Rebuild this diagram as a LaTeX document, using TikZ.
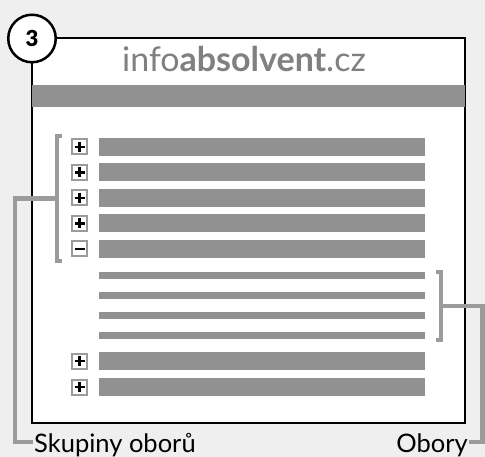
\documentclass[tikz,border=0pt]{standalone}
\usepackage{fontspec}
\setmainfont{Lato}
\newfontfamily\heavyfont{Lato Black}
\usepackage{tikz}
\usetikzlibrary{positioning}
\definecolor{paper}{HTML}{EFEFEF}
\definecolor{bar}{HTML}{919191}
\definecolor{brace}{HTML}{9B9B9B}
\definecolor{logo}{HTML}{808080}
\tikzset{fig/.style={line join=miter,x=1pt,y=-1pt},
  frame/.style={black,line width=2.5pt},
  bracket/.style={brace,line width=4.5pt},
  toggle/.style={draw=brace,line width=2pt,fill=white,minimum size=15pt,inner sep=0pt},
  plusbox/.style={toggle,path picture={\draw[black,line width=2.2pt]
    (path picture bounding box.center)+(-5,0)--+(5,0)+(0,-5)--+(0,5);}},
  minusbox/.style={toggle,path picture={\draw[black,line width=2.2pt]
    (path picture bounding box.center)+(-5,0)--+(5,0);}},
  caption/.style={font=\fontsize{25.5}{30}\selectfont,inner sep=1pt}}

\begin{document}
\begin{tikzpicture}[fig]
  \fill[paper](0,0)rectangle(485,457);
  \useasboundingbox(0,0)rectangle(485,457);
  \draw[frame,fill=white](32,38)rectangle(465,423);
  \fill[bar](32,85)rectangle(465,107);
  \node[font=\fontsize{34}{38}\selectfont,logo,anchor=base](site)at(244,72){info\textbf{absolvent}.cz};
  \node[draw,frame,fill=white,circle,minimum size=47.5pt,inner sep=0pt,
    font=\fontsize{22}{24}\selectfont\heavyfont](step3)at(32,38.5){3};
  % skupiny
  \foreach \y/\n in {147/1,172.5/2,198/3,223.5/4,361/6,387/7}{
    \node[plusbox](t\n)at(79.5,\y){};
    \fill[bar](99,\y-9)rectangle(425,\y+9);
  }
  \node[minusbox](t5)at(79.5,249){};
  \fill[bar](99,240)rectangle(425,258);
  % obory
  \foreach \y in {275.5,295.5,315.5,335.5}
    \fill[bar](99,\y-3.5)rectangle(425,\y+3.5);
  % popisky
  \draw[bracket](61.5,136)--(57,136)--coordinate[pos=.5](gmid)(57,261)--(61.5,261);
  \coordinate(gfoot)at(15,442);
  \node[caption,anchor=base west](skup)at(33,452){Skupiny oborů};
  \draw[bracket](gmid)-|(gfoot)--(gfoot-|skup.west);
  \draw[bracket](436,272)--(441,272)--coordinate[pos=.5](omid)(441,340)--(436,340);
  \coordinate(ofoot)at(482.5,442);
  \node[caption,anchor=base east](obory)at(469,452){Obory};
  \draw[bracket](omid)-|(ofoot)--(ofoot-|obory.east);
\end{tikzpicture}
\end{document}
